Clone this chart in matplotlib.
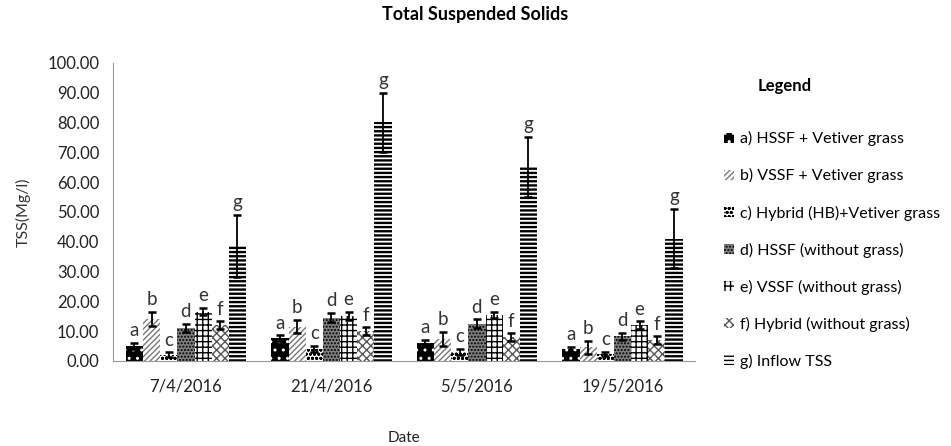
import numpy as np
import matplotlib.pyplot as plt

plt.rcParams['font.family'] = ['Lato', 'DejaVu Sans']
plt.rcParams['hatch.linewidth'] = 1.0

dates = ['7/4/2016', '21/4/2016', '5/5/2016', '19/5/2016']
series = ['a) HSSF + Vetiver grass', 'b) VSSF + Vetiver grass',
          'c) Hybrid (HB)+Vetiver grass', 'd) HSSF (without grass)',
          'e) VSSF (without grass)', 'f) Hybrid (without grass)',
          'g) Inflow TSS']
letters = ['a', 'b', 'c', 'd', 'e', 'f', 'g']

# mean TSS per series, one value per date
tss_a = [5.0, 7.5, 6.0, 3.8]
tss_b = [14.0, 11.5, 7.3, 4.5]
tss_c = [2.0, 4.0, 3.0, 2.3]
tss_d = [11.0, 14.5, 12.5, 8.2]
tss_e = [16.5, 15.0, 15.5, 12.0]
tss_f = [12.0, 10.0, 8.0, 7.0]
tss_g = [38.5, 80.0, 65.0, 41.0]

err_a = [1.0, 1.0, 1.0, 1.0]
err_b = [2.3, 2.2, 2.4, 2.3]
err_c = [0.8, 1.0, 1.0, 0.8]
err_d = [1.3, 1.5, 1.4, 1.3]
err_e = [1.2, 1.3, 1.0, 1.2]
err_f = [1.2, 1.2, 1.2, 1.2]
err_g = [10.5, 10.0, 10.0, 10.0]

values = [tss_a, tss_b, tss_c, tss_d, tss_e, tss_f, tss_g]
errors = [err_a, err_b, err_c, err_d, err_e, err_f, err_g]

# (face, hatch colour, hatch, hatch width)
styles = [('black', 'white', '..', 1.0),
          ('white', '#777777', '//////', 1.0),
          ('white', 'black', 'oooo', 1.0),
          ('#808080', 'black', '.....', 1.0),
          ('white', 'black', '+++', 1.0),
          ('white', '#555555', 'xxxx', 1.0),
          ('white', 'black', '----', 1.7)]

fig = plt.figure(figsize=(9.51, 4.46), dpi=100)
ax = fig.add_axes([0.119, 0.191, 0.612, 0.668])

x = np.arange(len(dates))
w = 0.118
for i in range(7):
    pos = x + (i - 3) * w
    fc, hc, h, hw = styles[i]
    with plt.rc_context({'hatch.linewidth': hw}):
        bars = ax.bar(pos, values[i], w, color=fc, edgecolor=hc, hatch=h,
                      linewidth=0, label=series[i])
    for b in bars:
        if hasattr(b, 'set_hatch_linewidth'):
            b.set_hatch_linewidth(hw)
    ax.errorbar(pos, values[i], yerr=errors[i], fmt='none', ecolor='black',
                elinewidth=1.3, capsize=3, capthick=1.8)
    for p, v, e in zip(pos, values[i], errors[i]):
        ax.text(p, v + e + 1.3, letters[i], ha='center', va='bottom',
                fontsize=13.5, color='#333333')

ax.set_xlim(-0.5, 3.5)
ax.set_ylim(0, 100)
ax.set_yticks(np.arange(0, 101, 10))
ax.set_yticklabels(['%.2f' % t for t in np.arange(0, 101, 10)])
ax.set_xticks(x)
ax.set_xticklabels(dates)
ax.tick_params(length=0, labelsize=12, colors='#222222')
ax.tick_params(axis='x', pad=13)
ax.tick_params(axis='y', pad=10)
for s in ['top', 'right']:
    ax.spines[s].set_visible(False)
for s in ['left', 'bottom']:
    ax.spines[s].set_color('#999999')

ax.set_ylabel('TSS(Mg/l)', fontsize=11.5, color='#333333', labelpad=12)
ax.set_xlabel('Date', fontsize=11, color='#222222', labelpad=26)
fig.text(0.5, 0.968, 'Total Suspended Solids', ha='center', va='center',
         fontsize=13, fontweight='bold')

fig.text(0.797, 0.807, 'Legend', ha='left', va='center', fontsize=12,
         fontweight='bold')
ax.legend(loc='upper left', bbox_to_anchor=(0.755, 0.72),
          bbox_transform=fig.transFigure, frameon=False, fontsize=11.5,
          handlelength=0.6, handleheight=0.6, handletextpad=0.35,
          labelspacing=1.38, borderaxespad=0)

fig.savefig('out.png', dpi=100)
